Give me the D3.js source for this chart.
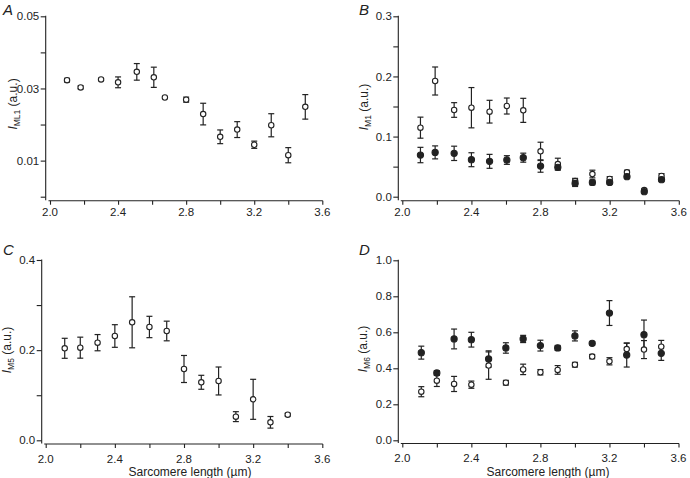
<!DOCTYPE html>
<html><head><meta charset="utf-8">
<script src="https://cdn.jsdelivr.net/npm/d3@7"></script>
<style>
body{margin:0;background:#fff;}
text{font-family:"Liberation Sans",Arial,Helvetica,sans-serif;fill:#222;}
</style></head>
<body><svg id="c" width="690" height="478"></svg>
<script>
// ---------- data ----------
const xTicksMajor = [2.0, 2.4, 2.8, 3.2, 3.6];
const xTicksAll = [2.0, 2.2, 2.4, 2.6, 2.8, 3.0, 3.2, 3.4, 3.6];

// Panel A : I_ML1
const aX   = [2.10, 2.18, 2.30, 2.40, 2.51, 2.61, 2.675, 2.80, 2.90, 3.00, 3.10, 3.20, 3.30, 3.40, 3.50];
const aY   = [0.0323, 0.0303, 0.0325, 0.0317, 0.0346, 0.0331, 0.0275, 0.0269, 0.0229, 0.0166, 0.0186, 0.0144, 0.0198, 0.0115, 0.0249];
const aErr = [0.0005, 0.0004, 0.0003, 0.0015, 0.0023, 0.0028, 0.0000, 0.0007, 0.0030, 0.0019, 0.0022, 0.0010, 0.0032, 0.0021, 0.0034];
const aTicksLabeled = [0.01, 0.03, 0.05];
const aTicksAll = [0.00, 0.01, 0.02, 0.03, 0.04, 0.05];

// Panel B : I_M1
const bX        = [2.105, 2.19, 2.30, 2.40, 2.505, 2.605, 2.70, 2.80, 2.90, 3.00, 3.10, 3.20, 3.30, 3.40, 3.50];
const bOpen     = [0.1148, 0.1924, 0.1442, 0.148, 0.1414, 0.1508, 0.1436, 0.0754, 0.0543, 0.026, 0.0377, 0.0294, 0.0405, 0.0111, 0.0344];
const bOpenErr  = [0.0175, 0.0233, 0.0122, 0.0335, 0.0189, 0.0133, 0.020, 0.0152, 0.0097, 0.0045, 0.0064, 0.004, 0.0035, 0.002, 0.004];
const bFill     = [0.0693, 0.0737, 0.0721, 0.0615, 0.0588, 0.061, 0.0649, 0.051, 0.0488, 0.022, 0.0238, 0.0238, 0.0333, 0.0083, 0.0283];
const bFillErr  = [0.0128, 0.0108, 0.0119, 0.0116, 0.0116, 0.0072, 0.0075, 0.0103, 0.0044, 0.005, 0.004, 0.003, 0.003, 0.002, 0.003];
const bTicksLabeled = [0.0, 0.1, 0.2, 0.3];
const bTicksAll = [0.0, 0.05, 0.1, 0.15, 0.2, 0.25, 0.3];

// Panel C : I_M5
const cX   = [2.11, 2.20, 2.30, 2.40, 2.50, 2.60, 2.70, 2.80, 2.90, 3.00, 3.10, 3.20, 3.30, 3.40];
const cY   = [0.2041, 0.2055, 0.2166, 0.2314, 0.2618, 0.2514, 0.2425, 0.1582, 0.1287, 0.1316, 0.0525, 0.0909, 0.0399, 0.0569];
const cErr = [0.0222, 0.0233, 0.018, 0.0251, 0.0566, 0.0237, 0.0218, 0.030, 0.0155, 0.031, 0.011, 0.0444, 0.0129, 0.003];
const cTicksLabeled = [0.0, 0.2, 0.4];
const cTicksAll = [0.0, 0.1, 0.2, 0.3, 0.4];

// Panel D : I_M6
const dX        = [2.11, 2.20, 2.30, 2.40, 2.50, 2.60, 2.70, 2.80, 2.90, 3.00, 3.10, 3.20, 3.30, 3.40, 3.50];
const dFill     = [0.487, 0.374, 0.563, 0.559, 0.452, 0.513, 0.563, 0.526, 0.513, 0.580, 0.539, 0.707, 0.474, 0.587, 0.483];
const dFillErr  = [0.036, 0.013, 0.055, 0.041, 0.045, 0.029, 0.020, 0.030, 0.014, 0.028, 0.010, 0.069, 0.067, 0.081, 0.039];
const dOpen     = [0.270, 0.331, 0.313, 0.309, 0.415, 0.320, 0.394, 0.378, 0.391, 0.420, 0.465, 0.439, 0.507, 0.504, 0.520];
const dOpenErr  = [0.028, 0.032, 0.042, 0.020, 0.076, 0.013, 0.029, 0.015, 0.024, 0.013, 0.012, 0.020, 0.032, 0.050, 0.035];
const dTicksLabeled = [0.0, 0.2, 0.4, 0.6, 0.8, 1.0];
const dTicksAll = dTicksLabeled;

// ---------- layout ----------
const panels = [
  {letter:"A", sub:"ML1", xr:[50, 322.3], yd:[0,0.05], yr:[196.7,16.3], xAxisY:200.7, yAxisX:45.7,
   lab:aTicksLabeled, all:aTicksAll, fmt:d3.format(".2f"), lblBase:216, letterPos:[3,15], titlePos:[17,104],
   showX:false, series:[{x:aX,y:aY,e:aErr,filled:false}]},
  {letter:"B", sub:"M1", xr:[402.3, 678.8], yd:[0,0.3], yr:[196.7,16.3], xAxisY:200.7, yAxisX:398.3,
   lab:bTicksLabeled, all:bTicksAll, fmt:d3.format(".1f"), lblBase:216, letterPos:[359,15], titlePos:[368,107],
   showX:false, series:[{x:bX,y:bOpen,e:bOpenErr,filled:false},{x:bX,y:bFill,e:bFillErr,filled:true}]},
  {letter:"C", sub:"M5", xr:[45.7, 322.3], yd:[0,0.4], yr:[440.3,260], xAxisY:444, yAxisX:41.7,
   lab:cTicksLabeled, all:cTicksAll, fmt:d3.format(".1f"), lblBase:462.5, letterPos:[3,255], titlePos:[11,350],
   showX:true, titleX:[190,475.5], series:[{x:cX,y:cY,e:cErr,filled:false}]},
  {letter:"D", sub:"M6", xr:[402.3, 678.5], yd:[0,1], yr:[440.3,260.3], xAxisY:443.5, yAxisX:398.3,
   lab:dTicksLabeled, all:dTicksAll, fmt:d3.format(".1f"), lblBase:461.5, letterPos:[359,255], titlePos:[367,349],
   showX:true, titleX:[548,475.5], series:[{x:dX,y:dOpen,e:dOpenErr,filled:false},{x:dX,y:dFill,e:dFillErr,filled:true}]}
];

const svg = d3.select("#c");
const ink = "#222";

panels.forEach(p => {
  const x = d3.scaleLinear().domain([2.0,3.6]).range(p.xr);
  const y = d3.scaleLinear().domain(p.yd).range(p.yr);
  const g = svg.append("g");

  // x axis
  const xa = g.append("g").attr("transform",`translate(0,${p.xAxisY})`)
    .call(d3.axisBottom(x).tickValues(xTicksAll).tickSize(4).tickSizeOuter(0).tickFormat(""));
  xa.select(".domain").remove();
  xa.selectAll(".tick line").attr("stroke",ink).attr("stroke-width",1.1);
  g.append("line").attr("x1",p.xr[0]-1.5).attr("x2",p.xr[1]+0.5).attr("y1",p.xAxisY).attr("y2",p.xAxisY)
    .attr("stroke",ink).attr("stroke-width",1.1);
  g.selectAll(".xl").data(xTicksMajor).join("text")
    .attr("x",d=>x(d)).attr("y",p.lblBase).attr("text-anchor","middle")
    .attr("font-size","11.5px").text(d=>d.toFixed(1));

  // y axis
  const ya = g.append("g").attr("transform",`translate(${p.yAxisX},0)`)
    .call(d3.axisLeft(y).tickValues(p.all).tickSize(5).tickSizeOuter(0)
      .tickFormat(d => p.lab.some(v=>Math.abs(v-d)<1e-9) ? p.fmt(d) : ""));
  ya.select(".domain").remove();
  ya.selectAll(".tick line").attr("stroke",ink).attr("stroke-width",1.1);
  ya.selectAll(".tick text").attr("font-size","11.5px").attr("x",-6.5)
    .attr("font-family","'Liberation Sans',Arial,sans-serif").attr("fill",ink);
  g.append("line").attr("x1",p.yAxisX).attr("x2",p.yAxisX).attr("y1",p.yr[1]-0.5).attr("y2",p.xAxisY-0.5)
    .attr("stroke",ink).attr("stroke-width",1.1);

  // letter
  g.append("text").attr("x",p.letterPos[0]).attr("y",p.letterPos[1])
    .attr("font-size","15px").attr("font-style","italic").text(p.letter);

  // y title
  const t = g.append("text").attr("transform",`translate(${p.titlePos[0]},${p.titlePos[1]}) rotate(-90)`)
    .attr("text-anchor","middle").attr("font-size","12px");
  t.append("tspan").attr("font-style","italic").text("I");
  t.append("tspan").attr("font-size","8.5px").attr("dy","3").text(p.sub);
  t.append("tspan").attr("dy","-3").text(" (a.u.)");

  if (p.showX) {
    g.append("text").attr("x",p.titleX[0]).attr("y",p.titleX[1]).attr("text-anchor","middle")
      .attr("font-size","12px").text("Sarcomere length (\u00b5m)");
  }

  // error bars
  p.series.forEach(s => {
    const idx = d3.range(s.x.length);
    const eg = g.append("g").attr("stroke",ink).attr("stroke-width",1.2).attr("fill","none");
    idx.filter(i=>s.e[i]>0).forEach(i => {
      const cx = x(s.x[i]), y1 = y(s.y[i]+s.e[i]), y2 = y(s.y[i]-s.e[i]);
      eg.append("line").attr("x1",cx).attr("x2",cx).attr("y1",y1).attr("y2",y2);
      eg.append("line").attr("x1",cx-3).attr("x2",cx+3).attr("y1",y1).attr("y2",y1);
      eg.append("line").attr("x1",cx-3).attr("x2",cx+3).attr("y1",y2).attr("y2",y2);
    });
  });
  // markers
  p.series.forEach(s => {
    g.append("g").selectAll("circle").data(d3.range(s.x.length)).join("circle")
      .attr("cx",i=>x(s.x[i])).attr("cy",i=>y(s.y[i]))
      .attr("r", s.filled ? 3.1 : 2.7)
      .attr("fill", s.filled ? ink : "#fff")
      .attr("stroke",ink).attr("stroke-width",1.1);
  });
});
</script></body></html>
